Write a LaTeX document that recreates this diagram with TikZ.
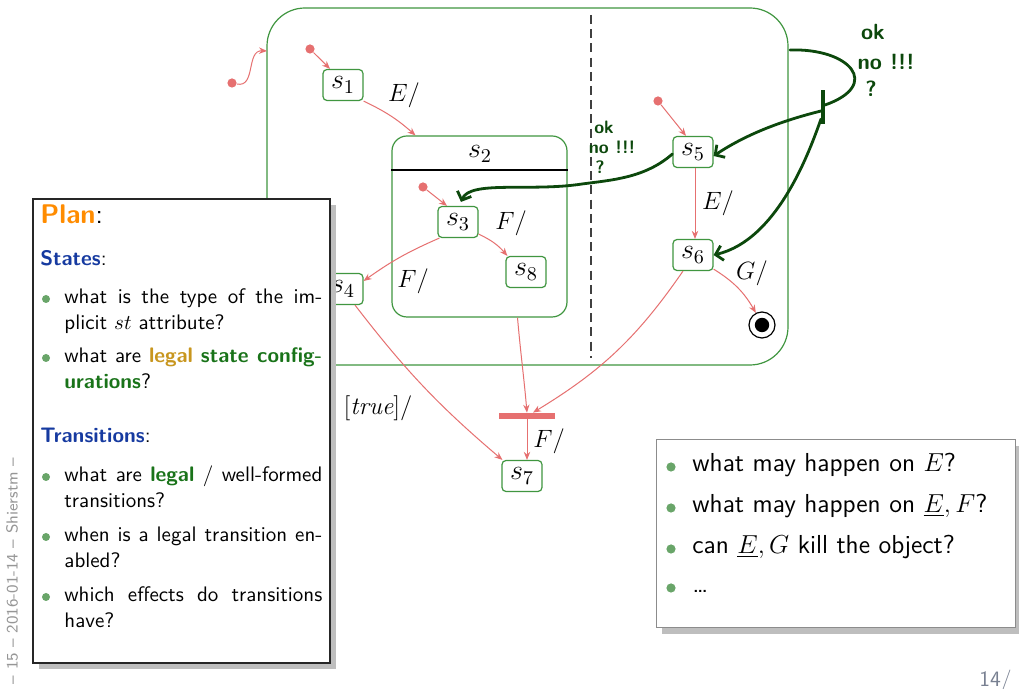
\RequirePackage{fix-cm}
\documentclass[tikz,border=0pt]{standalone}
\usepackage{fontspec}
\usetikzlibrary{arrows.meta,calc}

\definecolor{stgreen}{RGB}{64,150,64}
\definecolor{arrred}{RGB}{230,112,112}
\definecolor{handgreen}{RGB}{12,72,12}
\definecolor{planorange}{RGB}{255,140,0}
\definecolor{headblue}{RGB}{22,58,160}
\definecolor{legalgold}{RGB}{200,150,30}
\definecolor{termgreen}{RGB}{25,115,25}
\definecolor{bulgreen}{RGB}{105,165,105}
\definecolor{shadowgray}{RGB}{190,190,190}
\definecolor{footgray}{RGB}{150,150,150}
\definecolor{pagegray}{RGB}{120,128,145}

\begin{document}
\begin{tikzpicture}[x=0.5pt,y=-0.5pt,
  statebox/.style={draw=stgreen, line width=0.6pt, rounded corners=2pt, fill=white,
    minimum width=20pt, minimum height=15.5pt, inner sep=0pt, font=\fontsize{14}{14}\selectfont},
  statefont/.style={inner sep=0pt, font=\fontsize{14}{14}\selectfont},
  tr/.style={draw=arrred, line width=0.5pt, -{Stealth[length=4pt,width=3.2pt]}},
  lbl/.style={inner sep=0pt, font=\fontsize{12.5}{14}\selectfont},
  initdot/.style={circle, fill=arrred, inner sep=0pt, minimum size=4.6pt},
  hand/.style={draw=handgreen, line width=1.4pt, line cap=round, line join=round},
  handtip/.style={-{Straight Barb[length=3.5pt,width=7.5pt,line width=1.4pt]}},
  handtxt/.style={text=handgreen, inner sep=0pt, font=\sffamily\bfseries\fontsize{11}{11}\selectfont},
  handtxts/.style={text=handgreen, inner sep=0pt, font=\sffamily\bfseries\fontsize{9}{9}\selectfont},
  plantxt/.style={anchor=base west, inner sep=0pt, text width=129pt, align=justify,
    font=\sffamily\fontsize{10.5}{13}\selectfont},
  planhead/.style={anchor=base west, inner sep=0pt, font=\sffamily\fontsize{10.5}{13}\selectfont},
  qtxt/.style={anchor=base west, inner sep=0pt, font=\sffamily\fontsize{13}{15}\selectfont},
]
\path[use as bounding box, fill=white] (0,0) rectangle (1019,689);

% ---------- top-level composite state with two regions ----------
\node[draw=stgreen, line width=0.6pt, rounded corners=19pt, minimum width=260.5pt,
      minimum height=178.5pt, inner sep=0pt] (top) at (527.5,186.5) {};
\coordinate (topin) at (267,51);
\coordinate (sept) at (591,15);
\coordinate (sepb) at (591,358);
\draw[black!75, line width=0.6pt, dash pattern=on 4.5pt off 2.6pt] (sept) -- (sepb);

% composite state s2
\node[draw=stgreen, line width=0.6pt, rounded corners=7.5pt, minimum width=87.5pt,
      minimum height=90.5pt, inner sep=0pt] (s2) at (479.5,226.5) {};
\node[statefont] (s2name) at (480,154) {$s_2$};
\coordinate (s2bar) at (480,170);
\draw[line width=0.85pt] (s2.west |- s2bar) -- (s2.east |- s2bar);

% simple states
\node[statebox] (s1) at (343,85) {$s_1$};
\node[statebox] (s3) at (458,222) {$s_3$};
\node[statebox] (s8) at (526,272) {$s_8$};
\node[statebox] (s4) at (343,289) {$s_4$};
\node[statebox] (s5) at (693,152) {$s_5$};
\node[statebox] (s6) at (693,255) {$s_6$};
\node[statebox] (s7) at (522,476) {$s_7$};

% final state and join bar
\node[circle, draw, line width=0.6pt, minimum size=13pt, inner sep=0pt] (fin) at (762,325) {};
\fill (fin.center) circle (3.6pt);
\node[fill=arrred, minimum width=28pt, minimum height=3pt, inner sep=0pt] (bar) at (527,416) {};

% initial pseudostates
\node[initdot] (i0) at (232,83) {};
\node[initdot] (i1) at (310,49) {};
\node[initdot] (i2) at (423,187) {};
\node[initdot] (i3) at (658,101) {};

% transitions
\draw[tr] (i0) .. controls (256,88) and (246,50) .. (topin);
\draw[tr] (i1) -- ([xshift=-6.5pt]s1.north);
\draw[tr] (s1.south east) to[bend left=8] ([xshift=-32pt]s2.north);
\draw[tr] (i2) -- ([xshift=-5.5pt]s3.north);
\draw[tr] ([yshift=2pt]s3.south east) to[bend left=12] ([xshift=1pt]s8.north west);
\draw[tr] ([xshift=1pt]s3.south west) to[bend right=6] ([yshift=4pt]s4.east);
\draw[tr] ([xshift=6pt]s4.south) to[bend right=6] ([xshift=0.5pt]s7.north west);
\draw[tr] ([xshift=19pt]s2.south) to[out=-85,in=95] (bar.north);
\draw[tr] ([xshift=-5pt]s6.south) to[bend left=12] ([xshift=3pt]bar.north);
\draw[tr] (bar.south) -- (bar.south |- s7.north);
\draw[tr] (i3) -- ([xshift=-3.5pt]s5.north);
\draw[tr] ([xshift=1pt]s5.south) -- ([xshift=1pt]s6.north);
\draw[tr] ([yshift=1pt]s6.south east) to[bend left=14] (fin);

% transition labels
\node[lbl] (lE1) at (404,95) {$E/$};
\node[lbl] (lF1) at (511,223) {$F/$};
\node[lbl] (lF2) at (413,281) {$F/$};
\node[lbl] (lE2) at (718,203) {$E/$};
\node[lbl] (lG) at (752,273) {$G/$};
\node[lbl] (lF3) at (549,441) {$F/$};
\node[lbl] (ltrue) at (378,408) {$[\mathit{true}]/$};

% ---------- handwritten remarks ----------
\node[fill=handgreen, minimum width=1.6pt, minimum height=17pt, inner sep=0pt] (hbar) at (823,107) {};
\coordinate (hstart) at (790,50);
\draw[hand] (hstart) .. controls (850,48) and (882,85) .. ([yshift=1pt]hbar.east);
\draw[hand, handtip] ([yshift=-2pt]hbar.west) .. controls (785,120) and (748,133) .. ([yshift=-2pt]s5.east);
\draw[hand, handtip] ([yshift=-6pt]hbar.west) .. controls (810,150) and (778,240) .. (s6.east);
\draw[hand, handtip] ([yshift=-1pt]s5.west) .. controls (645,178) and (612,180) .. (582,184)
   .. controls (530,192) and (470,180) .. ([xshift=1.5pt,yshift=2pt]s3.north);
\node[handtxt] (ok1) at (873,32) {ok};
\node[handtxt] (no1) at (886,62) {no !!!};
\node[handtxt] (q1) at (871,89) {?};
\node[handtxts] (ok2) at (604,127) {ok};
\node[handtxts] (no2) at (612,147) {no !!!};
\node[handtxts] (q2) at (600,167) {?};

% ---------- plan box ----------
\fill[shadowgray] (39,205) rectangle (336,669);
\node[draw=black!85, fill=white, line width=0.6pt, minimum width=148.5pt, minimum height=232pt,
      inner sep=0pt] (plan) at (181.5,431) {};
\node[planhead] (ptitle) at (40,224) {{\fontsize{13.5}{15}\selectfont\textbf{\textcolor{planorange}{Plan}}:}};
\node[planhead] (pstates) at (40,266) {\textbf{\textcolor{headblue}{States}}:};
\node[plantxt] (pi1) at (64,304) {what is the type of the im-\linebreak plicit $st$ attribute?};
\node[plantxt] (pi2) at (64,363) {what are \textbf{\textcolor{legalgold}{legal}} \textbf{\textcolor{termgreen}{state config-\linebreak urations}}?};
\node[planhead] (ptrans) at (40,443) {\textbf{\textcolor{headblue}{Transitions}}:};
\node[plantxt] (pi3) at (64,482) {what are \textbf{\textcolor{termgreen}{legal}} / well-formed\linebreak transitions?};
\node[plantxt] (pi4) at (64,542) {when is a legal transition en-\linebreak abled?};
\node[plantxt] (pi5) at (64,602) {which effects do transitions\linebreak have?};
\foreach \by in {299,358,477,537,597}
  \fill[bulgreen] (46,\by) circle (2pt);

% ---------- question box ----------
\fill[shadowgray] (662,446) rectangle (1021,634);
\node[draw=black!45, fill=white, line width=0.5pt, minimum width=179.5pt, minimum height=94pt,
      inner sep=0pt] (qbox) at (835.5,534) {};
\node[qtxt] (q1t) at (692,472) {what may happen on $E$?};
\node[qtxt] (q2t) at (692,513) {what may happen on $\underline{E}, F$?};
\node[qtxt] (q3t) at (692,554) {can $\underline{E}, G$ kill the object?};
\node[qtxt] (q4t) at (692,593) {\ldots};
\foreach \by in {467,508,549,588}
  \fill[bulgreen] (671,\by) circle (2.3pt);

% ---------- footer ----------
\node[rotate=90, inner sep=0pt, text=footgray, font=\sffamily\fontsize{8}{9}\selectfont] (foot) at (12,571) {-- 15 -- 2016-01-14 -- Shierstm --};
\node[anchor=base east, inner sep=0pt, text=pagegray, font=\sffamily\fontsize{11}{12}\selectfont] (pnum) at (1012,687) {14/};
\end{tikzpicture}
\end{document}
